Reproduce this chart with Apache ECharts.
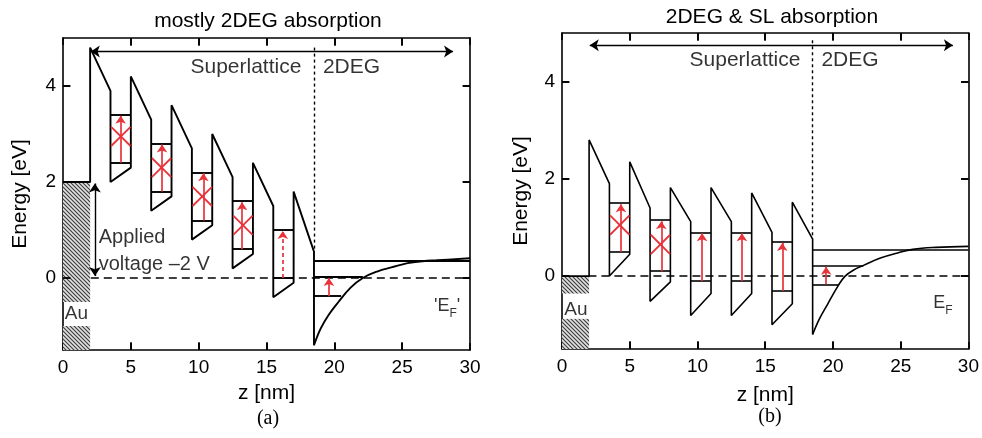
<!DOCTYPE html>
<html><head><meta charset="utf-8">
<script src="https://cdn.jsdelivr.net/npm/echarts@6/dist/echarts.min.js"></script>
<style>html,body{margin:0;padding:0;background:#fff}#c{width:982px;height:438px;background:#fff}</style>
</head><body><div id="c"></div>
<script>
// ---------- shared ----------
const zTickValues = [5, 10, 15, 20, 25];
const eTickValues = [0, 2, 4];
const wellStart = [3.5, 6.5, 9.5, 12.5, 15.5];
const wellEnd = [5, 8, 11, 14, 17];
const bandZ = [0, 2, 2, 3.5, 3.5, 5, 5, 6.5, 6.5, 8, 8, 9.5, 9.5, 11, 11, 12.5, 12.5, 14, 14, 15.5, 15.5, 17, 17, 18.5, 18.5];

// ---------- panel (a) ----------
const aBandE = [2, 2, 4.8, 3.9, 2.0, 2.3, 4.2, 3.3, 1.4, 1.7, 3.6, 2.7, 0.8, 1.1, 3.0, 2.1, 0.2, 0.5, 2.4, 1.5, -0.4, -0.1, 1.8, 0.55, -1.4];
const aCurveZ = [18.5, 19.0, 19.6, 20.3, 21.2, 22.1, 23.2, 24.2, 25.4, 26.5, 27.6, 30];
const aCurveE = [-1.4, -1.05, -0.76, -0.5, -0.2, 0.0, 0.14, 0.22, 0.31, 0.35, 0.37, 0.41];
const aLowLevel = [2.4, 1.8, 1.2, 0.6, 0.0];
const aHighLevel = [3.4, 2.8, 2.2, 1.6, 1.0];
const aArrowZ = [4.25, 7.3, 10.35, 13.2, 16.2];
const aBlocked = [true, true, true, true, false];
const aCrossE = [2.95, 2.3, 1.7, 1.1];
const aGasLevel = [0.35, 0.02, -0.38];
const aGasLevelEnd = [30, 22.1, 20.5];
const aGasArrow = [19.6, -0.38, 0.02];
const aAuHatch = [[2, -0.5], [-1.0, -1.5]];

// ---------- panel (b) ----------
const bBandE = [0, 0, 2.8, 1.9, 0, 0.45, 2.35, 1.4, -0.52, -0.12, 1.82, 1.12, -0.81, -0.36, 1.82, 1.12, -0.81, -0.36, 1.71, 0.9, -1.0, -0.57, 1.52, 0.76, -1.2];
const bCurveZ = [18.5, 19.0, 19.6, 20.4, 20.9, 21.5, 22.25, 23.5, 24.7, 25.9, 27.6, 30];
const bCurveE = [-1.2, -0.88, -0.58, -0.19, 0.0, 0.12, 0.22, 0.37, 0.47, 0.55, 0.59, 0.61];
const bLowLevel = [0.5, 0.1, -0.1, -0.1, -0.3];
const bHighLevel = [1.5, 1.15, 0.9, 0.9, 0.7];
const bArrowZ = [4.35, 7.33, 10.34, 13.28, 16.26];
const bBlocked = [true, true, false, false, false];
const bCrossE = [1.05, 0.65];
const bGasLevel = [0.55, 0.21, -0.17];
const bGasLevelEnd = [30, 22.25, 20.4];
const bGasArrow = [19.5, -0.17, 0.21];
const bAuHatch = [[0, -0.36], [-0.88, -1.5]];

const RED = '#e8333a';
const FONT = 'Liberation Sans';
const Z_MIN = 0, Z_MAX = 30, E_MIN = -1.5, E_MAX = 5;

function hatchCanvas() {
  const c = document.createElement('canvas');
  c.width = 4; c.height = 4;
  const g = c.getContext('2d');
  g.fillStyle = '#e0e0e0'; g.fillRect(0, 0, 4, 4);
  g.strokeStyle = '#3a3a3a'; g.lineWidth = 1.1;
  g.beginPath();
  g.moveTo(-1, -1); g.lineTo(5, 5);
  g.moveTo(-1, 3); g.lineTo(1, 5);
  g.moveTo(3, -1); g.lineTo(5, 1);
  g.stroke();
  return c;
}
const hatch = hatchCanvas();

function zip(xs, ys) { return xs.map((x, i) => [x, ys[i]]); }

function panelSeries(ax, P) {
  const base = { xAxisIndex: ax, yAxisIndex: ax, animation: false, silent: true };
  const seg = (list, extra) => Object.assign({}, base, {
    type: 'lines', coordinateSystem: 'cartesian2d', polyline: false, clip: false,
    data: list.map(c => ({ coords: c }))
  }, extra);
  const levels = [];
  wellStart.forEach((s, i) => {
    levels.push([[s, P.low[i]], [wellEnd[i], P.low[i]]]);
    levels.push([[s, P.high[i]], [wellEnd[i], P.high[i]]]);
  });
  P.gas.forEach((e, i) => levels.push([[18.5, e], [P.gasEnd[i], e]]));
  const solidArrows = [], dashedArrows = [];
  P.arrowZ.forEach((z, i) => {
    const a = [[z, P.low[i]], [z, P.high[i] - 0.02]];
    if (P.dashedLast && i === P.arrowZ.length - 1) dashedArrows.push(a); else solidArrows.push(a);
  });
  solidArrows.push([[P.gasArrow[0], P.gasArrow[1]], [P.gasArrow[0], P.gasArrow[2] - 0.02]]);
  const crosses = [];
  P.blocked.forEach((b, i) => {
    if (!b) return;
    const yc = P.cross[i], x0 = wellStart[i] + 0.05, x1 = wellEnd[i] - 0.02;
    crosses.push([[x0, yc + 0.2], [x1, yc - 0.2]]);
    crosses.push([[x0, yc - 0.2], [x1, yc + 0.2]]);
  });
  // inward frame ticks at the tick values (placed through the axes' scales)
  const ticks = [];
  zTickValues.forEach(z => {
    ticks.push([[z, E_MIN], [z, E_MIN + P.tickE]]);
    ticks.push([[z, E_MAX], [z, E_MAX - P.tickE]]);
  });
  eTickValues.forEach(e => {
    ticks.push([[Z_MIN, e], [Z_MIN + P.tickZ, e]]);
    ticks.push([[Z_MAX, e], [Z_MAX - P.tickZ, e]]);
  });
  return [
    Object.assign({}, base, {
      type: 'line', data: zip(bandZ, P.band), symbol: 'none', z: 5,
      lineStyle: { color: '#000', width: P.lw },
      markArea: {
        silent: true, z: 1,
        itemStyle: { color: { image: hatch, repeat: 'repeat' }, opacity: 1, borderWidth: 0 },
        label: { show: false },
        data: P.hatch.map(h => [{ coord: [0, h[0]] }, { coord: [2, h[1]] }])
      }
    }),
    Object.assign({}, base, {
      type: 'line', data: zip(P.curveZ, P.curveE), symbol: 'none', smooth: 0.4, z: 5,
      lineStyle: { color: '#000', width: P.lw }
    }),
    seg(levels, { lineStyle: { color: '#000', width: P.lw, opacity: 1 }, z: 4 }),
    seg(ticks, { lineStyle: { color: '#000', width: 1.8, opacity: 1 }, z: 20 }),
    seg([[[P.zeroStart, 0], [30, 0]]], { lineStyle: { color: '#000', width: 1.6, type: [8, 5], opacity: 1 }, z: 3 }),
    seg([[[18.5, P.dotTop], [18.5, P.dotBottom]]], { lineStyle: { color: '#000', width: 1.4, type: [3, 3], opacity: 1 }, z: 3 }),
    seg(P.blackArrows, { symbol: ['arrow', 'arrow'], symbolSize: [9, 9], lineStyle: { color: '#000', width: 1.4, opacity: 1 }, z: 4 }),
    seg(solidArrows, { symbol: ['none', 'arrow'], symbolSize: 8, lineStyle: { color: RED, width: 1.7, opacity: 1 }, z: 6 }),
    seg(dashedArrows, { symbol: ['none', 'arrow'], symbolSize: 8, lineStyle: { color: RED, width: 1.7, type: [4, 3], opacity: 1 }, z: 6 }),
    seg(crosses, { lineStyle: { color: RED, width: 1.8, opacity: 1 }, z: 6 }),
    Object.assign({}, base, {
      type: 'scatter', symbolSize: 0, z: 7,
      data: P.labels.map(l => ({
        value: [l.z, l.e],
        label: Object.assign({ show: true, position: 'inside', color: '#000', fontFamily: FONT, fontSize: 20, verticalAlign: 'middle' }, l.style)
      }))
    })
  ];
}

const richEF = {
  e: { fontSize: 18, fontFamily: FONT, color: '#000', verticalAlign: 'top' },
  s: { fontSize: 12, fontFamily: FONT, color: '#000', padding: [11, 0, 0, 0], verticalAlign: 'top' }
};

const seriesA = panelSeries(0, {
  band: aBandE, curveZ: aCurveZ, curveE: aCurveE, low: aLowLevel, high: aHighLevel,
  arrowZ: aArrowZ, blocked: aBlocked, cross: aCrossE, gas: aGasLevel, gasEnd: aGasLevelEnd,
  gasArrow: aGasArrow, hatch: aAuHatch, dashedLast: true, zeroStart: 2.05, dotTop: 4.8, dotBottom: 0.55, lw: 1.9,
  tickZ: 0.55, tickE: 0.16,
  blackArrows: [[[2.05, 4.72], [28.75, 4.72]], [[2.35, 1.97], [2.35, 0.04]]],
  labels: [
    { z: 17.57, e: 4.4, style: { formatter: 'Superlattice', align: 'right', fontSize: 21 } },
    { z: 19.16, e: 4.4, style: { formatter: '2DEG', align: 'left', fontSize: 21 } },
    { z: 2.63, e: 0.57, style: { formatter: 'Applied\nvoltage \u20132 V', align: 'left', lineHeight: 27 } },
    { z: 0.99, e: -0.75, style: { formatter: 'Au', align: 'center', fontSize: 19 } },
    { z: 27.35, e: -0.63, style: { formatter: "{e|'E}{s|F}{e|'}", align: 'left', rich: richEF } }
  ]
});
const seriesB = panelSeries(2, {
  band: bBandE, curveZ: bCurveZ, curveE: bCurveE, low: bLowLevel, high: bHighLevel,
  arrowZ: bArrowZ, blocked: bBlocked, cross: bCrossE, gas: bGasLevel, gasEnd: bGasLevelEnd,
  gasArrow: bGasArrow, hatch: bAuHatch, dashedLast: false, zeroStart: 1.95, dotTop: 4.85, dotBottom: 0.76, lw: 1.6,
  tickZ: 0.55, tickE: 0.16,
  blackArrows: [[[2.05, 4.75], [28.85, 4.75]]],
  labels: [
    { z: 17.6, e: 4.44, style: { formatter: 'Superlattice', align: 'right', fontSize: 21 } },
    { z: 19.15, e: 4.44, style: { formatter: '2DEG', align: 'left', fontSize: 21 } },
    { z: 1.03, e: -0.7, style: { formatter: 'Au', align: 'center', fontSize: 19 } },
    { z: 27.4, e: -0.6, style: { formatter: '{e|E}{s|F}', align: 'left', rich: richEF } }
  ]
});

function axLine() { return { show: true, onZero: false, lineStyle: { color: '#000', width: 1.6 } }; }
function axTick(custom) {
  const t = { show: true, inside: true, length: 7, lineStyle: { color: '#000', width: 1.6 } };
  if (custom) t.customValues = custom;
  return t;
}

function xAxes(grid, nameGap) {
  return [
    { gridIndex: grid, type: 'value', min: Z_MIN, max: Z_MAX, interval: 5, position: 'bottom',
      axisLine: axLine(), axisTick: axTick(), splitLine: { show: false },
      axisLabel: { color: '#000', fontSize: 19, fontFamily: FONT, margin: 8 },
      name: 'z [nm]', nameLocation: 'middle', nameGap: nameGap,
      nameTextStyle: { color: '#000', fontSize: 21, fontFamily: FONT } },
    { gridIndex: grid, type: 'value', min: Z_MIN, max: Z_MAX, interval: 5, position: 'top',
      axisLine: axLine(), axisTick: axTick(), splitLine: { show: false },
      axisLabel: { show: false } }
  ];
}
function yAxes(grid, nameGap) {
  return [
    { gridIndex: grid, type: 'value', min: E_MIN, max: E_MAX, position: 'left',
      axisLine: axLine(), axisTick: axTick(eTickValues), splitLine: { show: false },
      axisLabel: { color: '#000', fontSize: 19, fontFamily: FONT, margin: 7, customValues: eTickValues },
      name: 'Energy [eV]', nameLocation: 'middle', nameGap: nameGap, nameRotate: 90,
      nameTextStyle: { color: '#000', fontSize: 21, fontFamily: FONT } },
    { gridIndex: grid, type: 'value', min: E_MIN, max: E_MAX, position: 'right',
      axisLine: axLine(), axisTick: axTick(eTickValues), splitLine: { show: false },
      axisLabel: { show: false } }
  ];
}

const chart = echarts.init(document.getElementById('c'), null, { renderer: 'canvas' });
chart.setOption({
  animation: false,
  grid: [
    { left: 63, top: 38, width: 407, height: 312 },
    { left: 562, top: 33, width: 409, height: 316 }
  ],
  xAxis: xAxes(0, 33).concat(xAxes(1, 36)),
  yAxis: yAxes(0, 32).concat(yAxes(1, 30)),
  graphic: [
    { type: 'text', x: 268, y: 21, style: { text: 'mostly 2DEG absorption', font: '21px "Liberation Sans"', fill: '#000', textAlign: 'center', textVerticalAlign: 'middle' } },
    { type: 'text', x: 772, y: 17, style: { text: '2DEG & SL absorption', font: '21px "Liberation Sans"', fill: '#000', textAlign: 'center', textVerticalAlign: 'middle' } },
    { type: 'text', x: 268, y: 419, style: { text: '(a)', font: '20px "Liberation Serif"', fill: '#000', textAlign: 'center', textVerticalAlign: 'middle' } },
    { type: 'text', x: 770, y: 417, style: { text: '(b)', font: '20px "Liberation Serif"', fill: '#000', textAlign: 'center', textVerticalAlign: 'middle' } }
  ],
  series: seriesA.concat(seriesB)
});
</script></body></html>
